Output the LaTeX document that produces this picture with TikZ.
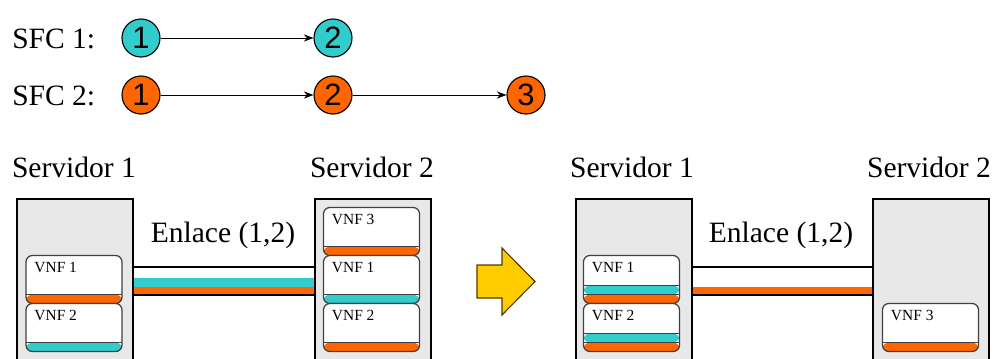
\documentclass[tikz,border=0pt]{standalone}
\usepackage{fontspec}
\setmainfont{Liberation Serif}
\newfontfamily\digitfont{Liberation Sans}
\usetikzlibrary{arrows.meta}
\usetikzlibrary{backgrounds}
\definecolor{sfccyan}{RGB}{51,204,204}
\definecolor{sfcorange}{RGB}{255,102,0}
\definecolor{srvgray}{RGB}{232,232,232}
\definecolor{arrowyellow}{RGB}{255,204,0}

\tikzset{
  sfc/.style={circle, draw=black, line width=0.8pt, fill=#1, minimum size=0.95cm, inner sep=0pt, font=\digitfont\fontsize{22}{24}\selectfont},
  flow/.style={-{Stealth[length=0.24cm, width=0.18cm]}, line width=0.7pt},
  bigtext/.style={font=\fontsize{21}{25}\selectfont, inner sep=0pt},
  server/.style={draw=black, line width=1.3pt, fill=srvgray, minimum width=2.9cm, minimum height=4.3cm, inner sep=0pt, anchor=north west},
  vnf/.style={draw=black!75, fill=white, rounded corners=0.16cm, line width=0.9pt, minimum width=2.4cm, minimum height=1.2cm, inner sep=0pt},
  vnflbl/.style={anchor=north west, inner xsep=0.22cm, inner ysep=0.19cm, font=\fontsize{11}{13}\selectfont},
  band/.style={path picture={
    \fill[#1] (path picture bounding box.south west) rectangle ([yshift=0.225cm]path picture bounding box.south east);
    \draw[black!75, line width=0.9pt] ([yshift=0.225cm]path picture bounding box.south west) -- ([yshift=0.225cm]path picture bounding box.south east);
  }},
  twoband/.style 2 args={path picture={
    \fill[#2] (path picture bounding box.south west) rectangle ([yshift=0.225cm]path picture bounding box.south east);
    \fill[#1] ([yshift=0.225cm]path picture bounding box.south west) rectangle ([yshift=0.45cm]path picture bounding box.south east);
    \draw[black!75, line width=0.9pt] ([yshift=0.225cm]path picture bounding box.south west) -- ([yshift=0.225cm]path picture bounding box.south east);
    \draw[black!75, line width=0.9pt] ([yshift=0.45cm]path picture bounding box.south west) -- ([yshift=0.45cm]path picture bounding box.south east);
  }},
  linkline/.style={line width=1.2pt},
  bigarrow/.style={draw=black!70!arrowyellow, line width=0.8pt, fill=arrowyellow, line join=miter}
}

\begin{document}
\begin{tikzpicture}[x=0.025cm, y=-0.025cm]
  \useasboundingbox (0,0) rectangle (993,358);
  \clip (0,0) rectangle (993,358);

  % cadenas SFC
  \node[bigtext, anchor=base west] (sfc1lbl) at (12,48) {SFC 1:};
  \node[bigtext, anchor=base west] (sfc2lbl) at (12,105) {SFC 2:};
  \node[sfc=sfccyan] (a1) at (141,38) {1};
  \node[sfc=sfccyan] (a2) at (333,38) {2};
  \node[sfc=sfcorange] (b1) at (141,95) {1};
  \node[sfc=sfcorange] (b2) at (333,95) {2};
  \node[sfc=sfcorange] (b3) at (526,95) {3};
  \draw[flow] (a1) -- (a2);
  \draw[flow] (b1) -- (b2);
  \draw[flow] (b2) -- (b3);

  % antes
  \node[bigtext, anchor=base] (l1lbl) at (74,177) {Servidor 1};
  \node[bigtext, anchor=base] (l2lbl) at (372,177) {Servidor 2};
  \node[server] (l1) at (16,198) {};
  \node[server] (l2) at (314,198) {};
  \node[bigtext, anchor=base] (l12lbl) at (223,242) {Enlace (1,2)};

  \node[vnf, band=sfcorange] (l1v1) at (74,279.5) {};
  \node[vnf, band=sfccyan] (l1v2) at (74,327.5) {};
  \node[vnflbl] (l1v1t) at (l1v1.north west) {VNF 1};
  \node[vnflbl] (l1v2t) at (l1v2.north west) {VNF 2};

  \node[vnf, band=sfcorange] (l2v3) at (371.5,231.5) {};
  \node[vnf, band=sfccyan] (l2v1) at (371.5,279.5) {};
  \node[vnf, band=sfcorange] (l2v2) at (371.5,327.5) {};
  \node[vnflbl] (l2v3t) at (l2v3.north west) {VNF 3};
  \node[vnflbl] (l2v1t) at (l2v1.north west) {VNF 1};
  \node[vnflbl] (l2v2t) at (l2v2.north west) {VNF 2};

  \begin{scope}[on background layer]
    \fill[white] ([yshift=0.45cm]l1.east) rectangle ([yshift=-0.25cm]l2.west);
    \fill[sfccyan] ([yshift=0.175cm]l1.east) rectangle ([yshift=-0.05cm]l2.west);
    \fill[sfcorange] ([yshift=-0.05cm]l1.east) rectangle ([yshift=-0.25cm]l2.west);
    \draw[linkline] ([yshift=0.45cm]l1.east) -- ([yshift=0.45cm]l2.west);
    \draw[linkline] ([yshift=-0.25cm]l1.east) -- ([yshift=-0.25cm]l2.west);
  \end{scope}

  % flecha
  \draw[bigarrow] (477,265) -- (502,265) -- (502,248) -- (535,281.5) -- (502,315) -- (502,298) -- (477,298) -- cycle;

  % despues
  \node[bigtext, anchor=base] (r1lbl) at (632,177) {Servidor 1};
  \node[bigtext, anchor=base] (r2lbl) at (929,177) {Servidor 2};
  \node[server] (r1) at (575,198) {};
  \node[server] (r2) at (872,198) {};
  \node[bigtext, anchor=base] (r12lbl) at (781,242) {Enlace (1,2)};

  \node[vnf, twoband={sfccyan}{sfcorange}] (r1v1) at (631.5,279.5) {};
  \node[vnf, twoband={sfccyan}{sfcorange}] (r1v2) at (631.5,327.5) {};
  \node[vnflbl] (r1v1t) at (r1v1.north west) {VNF 1};
  \node[vnflbl] (r1v2t) at (r1v2.north west) {VNF 2};

  \node[vnf, band=sfcorange] (r2v3) at (930.5,327.5) {};
  \node[vnflbl] (r2v3t) at (r2v3.north west) {VNF 3};

  \begin{scope}[on background layer]
    \fill[white] ([yshift=0.45cm]r1.east) rectangle ([yshift=-0.25cm]r2.west);
    \fill[sfcorange] ([yshift=-0.05cm]r1.east) rectangle ([yshift=-0.25cm]r2.west);
    \draw[linkline] ([yshift=0.45cm]r1.east) -- ([yshift=0.45cm]r2.west);
    \draw[linkline] ([yshift=-0.25cm]r1.east) -- ([yshift=-0.25cm]r2.west);
  \end{scope}
\end{tikzpicture}
\end{document}
